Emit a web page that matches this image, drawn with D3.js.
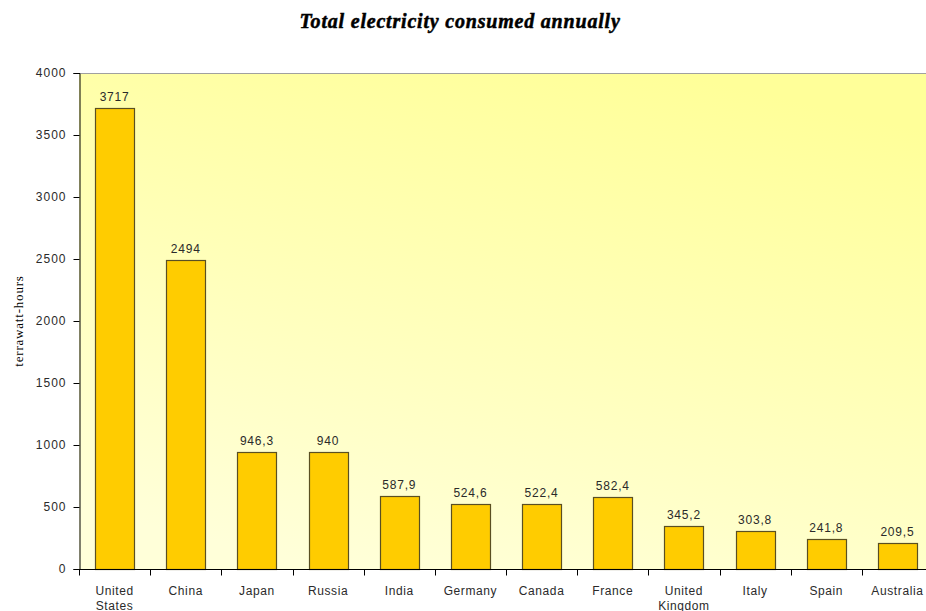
<!DOCTYPE html>
<html>
<head>
<meta charset="utf-8">
<script src="https://cdn.jsdelivr.net/npm/d3@7"></script>
<style>
  html, body { margin: 0; padding: 0; background: #fff; }
  svg { display: block; }
</style>
</head>
<body>
<svg id="chart" width="926" height="611"></svg>
<script>
// Annual electricity consumption by country (TWh)
const countries = ["United States", "China", "Japan", "Russia", "India", "Germany",
                   "Canada", "France", "United Kingdom", "Italy", "Spain", "Australia"];
const consumption = [3717, 2494, 946.3, 940, 587.9, 524.6, 522.4, 582.4, 345.2, 303.8, 241.8, 209.5];
const yTicks = [0, 500, 1000, 1500, 2000, 2500, 3000, 3500, 4000];

const data = countries.map((c, i) => ({ country: c, value: consumption[i] }));

const svg = d3.select("#chart");
const margin = { left: 79, top: 73, bottom: 42 };
const plotRight = 933;
const H = 611;
const sans = "Liberation Sans, Arial, sans-serif";
const serif = "Liberation Serif, Times New Roman, serif";
const textColor = "#2a2a2a";

const x = d3.scaleBand()
  .domain(countries)
  .range([margin.left, plotRight])
  .paddingInner(0.45)
  .paddingOuter(0.225);

const y = d3.scaleLinear()
  .domain([0, 4000])
  .range([H - margin.bottom, margin.top]);

// background gradient of the plot area
const defs = svg.append("defs");
const grad = defs.append("linearGradient")
  .attr("id", "bg")
  .attr("x1", "0.7").attr("y1", "0")
  .attr("x2", "0.3").attr("y2", "1");
grad.append("stop").attr("offset", "0%").attr("stop-color", "#ffff99");
grad.append("stop").attr("offset", "100%").attr("stop-color", "#ffffd9");

svg.append("rect")
  .attr("x", margin.left)
  .attr("y", margin.top)
  .attr("width", plotRight - margin.left)
  .attr("height", y(0) - margin.top)
  .attr("fill", "url(#bg)");

// top border of the plot area
svg.append("line")
  .attr("x1", margin.left).attr("x2", plotRight)
  .attr("y1", margin.top + 0.5).attr("y2", margin.top + 0.5)
  .attr("stroke", "#a0a0a0").attr("stroke-width", 1);

// bars
svg.append("g").selectAll("rect")
  .data(data)
  .join("rect")
  .attr("x", d => Math.round(x(d.country)) + 0.5)
  .attr("y", d => Math.round(y(d.value)) + 0.5)
  .attr("width", Math.round(x.bandwidth()))
  .attr("height", d => Math.round(y(0)) - Math.round(y(d.value)))
  .attr("fill", "#ffcc00")
  .attr("stroke", "#5a4f22")
  .attr("stroke-width", 1.2);

// value labels above bars
const fmt = v => String(v).replace(".", ",");
svg.append("g").selectAll("text")
  .data(data)
  .join("text")
  .attr("x", d => x(d.country) + x.bandwidth() / 2)
  .attr("y", d => y(d.value) - 7)
  .attr("text-anchor", "middle")
  .attr("font-family", sans)
  .attr("font-size", 12)
  .attr("letter-spacing", 0.8)
  .attr("fill", textColor)
  .text(d => fmt(d.value));

// y axis
const yAxis = d3.axisLeft(y)
  .tickValues(yTicks)
  .tickSize(6)
  .tickPadding(7)
  .tickFormat(d3.format("d"));
const gy = svg.append("g")
  .attr("transform", `translate(${margin.left + 0.5},0)`)
  .call(yAxis);
gy.select(".domain").attr("stroke", "#000");
gy.selectAll(".tick line").attr("stroke", "#000");
gy.selectAll(".tick text")
  .attr("font-family", sans)
  .attr("font-size", 12)
  .attr("letter-spacing", 1)
  .attr("fill", textColor);

// x axis: ticks sit at band boundaries
const gx = svg.append("g")
  .attr("transform", `translate(0,${Math.round(y(0)) + 0.5})`);
gx.append("line")
  .attr("x1", margin.left).attr("x2", plotRight)
  .attr("stroke", "#000");
const step = x.step();
const boundaries = d3.range(countries.length + 1).map(i => margin.left + i * step);
gx.selectAll("line.tk")
  .data(boundaries)
  .join("line")
  .attr("class", "tk")
  .attr("x1", d => Math.round(d) + 0.5).attr("x2", d => Math.round(d) + 0.5)
  .attr("y1", 0).attr("y2", 6)
  .attr("stroke", "#000");

// category labels (wrapped onto two lines where long)
const labelLines = c => c.split(" ");
const lbl = gx.selectAll("text")
  .data(countries)
  .join("text")
  .attr("text-anchor", "middle")
  .attr("font-family", sans)
  .attr("font-size", 12)
  .attr("letter-spacing", 0.6)
  .attr("fill", textColor)
  .attr("transform", d => `translate(${x(d) + x.bandwidth() / 2},25)`);
lbl.selectAll("tspan")
  .data(d => labelLines(d))
  .join("tspan")
  .attr("x", 0)
  .attr("dy", (d, i) => i === 0 ? 0 : 15)
  .text(d => d);

// y axis title
svg.append("text")
  .attr("transform", `translate(23,${(margin.top + y(0)) / 2}) rotate(-90)`)
  .attr("text-anchor", "middle")
  .attr("font-family", serif)
  .attr("font-size", 13)
  .attr("letter-spacing", 0.8)
  .attr("fill", "#000")
  .text("terrawatt-hours");

// chart title
svg.append("text")
  .attr("x", 460)
  .attr("y", 28)
  .attr("text-anchor", "middle")
  .attr("font-family", serif)
  .attr("font-size", 20)
  .attr("font-weight", "bold")
  .attr("font-style", "italic")
  .attr("letter-spacing", 0.8)
  .attr("stroke", "#000")
  .attr("stroke-width", 0.5)
  .attr("fill", "#000")
  .text("Total electricity consumed annually");
</script>
</body>
</html>
